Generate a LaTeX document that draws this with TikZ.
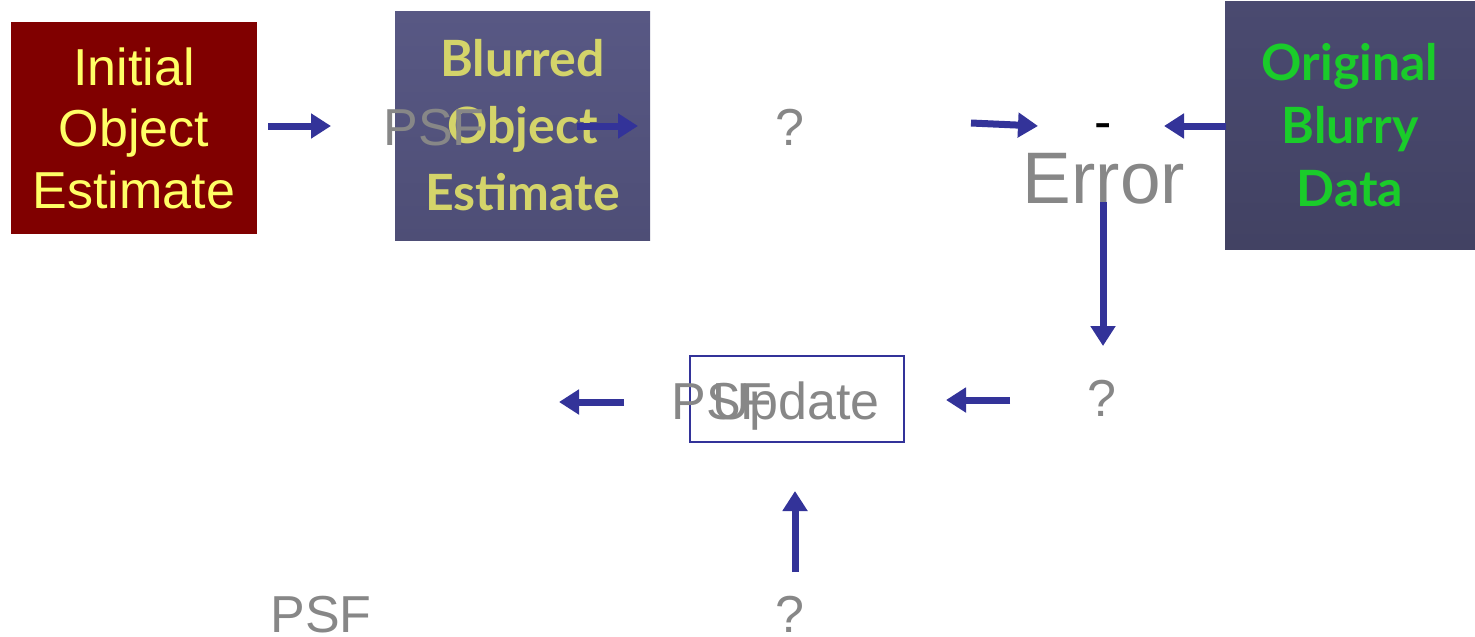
\documentclass[tikz,border=0pt]{standalone}
\usepackage{fontspec}
\setmainfont{Liberation Sans}
\newfontfamily\gillfont{Lato}
\usetikzlibrary{arrows.meta}
\definecolor{arrowblue}{RGB}{51,51,153}
\definecolor{graytext}{RGB}{135,135,135}
\definecolor{darkred}{RGB}{128,0,0}
\definecolor{paleyellow}{RGB}{255,255,102}
\definecolor{bluryellow}{RGB}{212,212,106}
\definecolor{blurgreen}{RGB}{26,204,42}
\definecolor{boxA}{RGB}{88,88,132}
\definecolor{boxB}{RGB}{78,78,118}
\definecolor{boxC}{RGB}{74,74,112}
\definecolor{boxD}{RGB}{66,66,99}
\begin{document}
\begin{tikzpicture}[x=1pt,y=-1pt,
  arr/.style={-{Triangle[length=20pt,width=24pt]}, line width=7pt, draw=arrowblue},
  lbl/.style={text=graytext, inner sep=0pt, anchor=base, font=\fontsize{52}{62}\selectfont},
  box/.style={rectangle, inner sep=0pt, align=center},
]
\useasboundingbox (0,0) rectangle (1475,637);

% boxes
\node[box, fill=darkred, minimum width=246pt, minimum height=212pt, text=paleyellow,
      font=\fontsize{52}{61.5}\selectfont] (init) at (134,128) {Initial\\Object\\Estimate};
\node[box, top color=boxA, bottom color=boxB, minimum width=255pt, minimum height=229pt,
      text=bluryellow, font=\gillfont\bfseries\fontsize{50}{67}\selectfont] (blurred) at (522.5,125.5) {Blurred\\Object\\Estimate};
\node[box, top color=boxC, bottom color=boxD, minimum width=250pt, minimum height=248pt,
      text=blurgreen, font=\gillfont\bfseries\fontsize{50}{63}\selectfont] (orig) at (1350,125) {Original\\Blurry\\Data};
\node[rectangle, draw=arrowblue, line width=2pt, minimum width=214pt, minimum height=86pt, inner sep=0pt] (upbox) at (797,399) {};

% labels
\node[lbl] (psfA) at (434,145) {PSF};
\node[lbl] (qA) at (790,145) {?};
\node[lbl, text=black] (minus) at (1103,139) {-};
\node[lbl, font=\fontsize{73}{88}\selectfont] (error) at (1104,203) {Error};
\node[lbl] (qB) at (1102,416) {?};
\node[lbl] (psfB) at (722,419) {PSF};
\node[lbl] (update) at (796,419) {Update};
\node[lbl] (psfC) at (321,632) {PSF};
\node[lbl] (qC) at (790,632) {?};

% arrow end points
\coordinate (a1s) at (268,126); \coordinate (a1e) at (331,126);
\coordinate (a2s) at (577,126); \coordinate (a2e) at (638,126);
\coordinate (a3s) at (971,123); \coordinate (a3e) at (1038,126);
\coordinate (a4s) at (1226,126); \coordinate (a4e) at (1164,126);
\coordinate (a5s) at (1103,202); \coordinate (a5e) at (1103,346);
\coordinate (a6s) at (1010,400); \coordinate (a6e) at (946,400);
\coordinate (a7s) at (624,402); \coordinate (a7e) at (559,402);
\coordinate (a8s) at (795,572); \coordinate (a8e) at (795,491);

\draw[arr] (a1s) -- (a1e);
\draw[arr] (a2s) -- (a2e);
\draw[arr] (a3s) -- (a3e);
\draw[arr] (a4s) -- (a4e);
\draw[arr] (a5s) -- (a5e);
\draw[arr] (a6s) -- (a6e);
\draw[arr] (a7s) -- (a7e);
\draw[arr] (a8s) -- (a8e);
\end{tikzpicture}
\end{document}
